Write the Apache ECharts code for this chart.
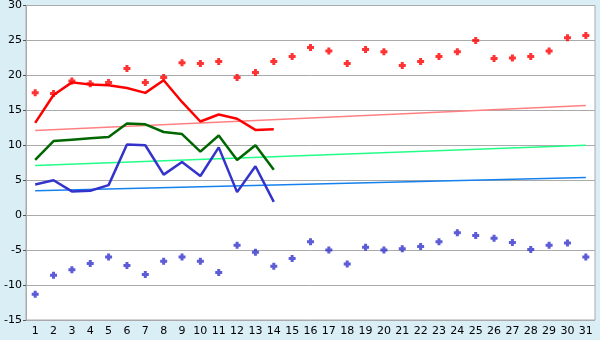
<!DOCTYPE html>
<html><head><meta charset="utf-8">
<script src="https://cdn.jsdelivr.net/npm/echarts@6/dist/echarts.min.js"></script>
<style>html,body{margin:0;padding:0;background:#daeef6;}#c{width:600px;height:340px;}</style>
</head><body><div id="c"></div>
<script>
var days = ['1','2','3','4','5','6','7','8','9','10','11','12','13','14','15','16','17','18','19','20','21','22','23','24','25','26','27','28','29','30','31'];
var yTicks = [-15,-10,-5,0,5,10,15,20,25,30];
var maxPoints = [17.5,17.4,19.2,18.8,19.0,21.0,19.0,19.7,21.8,21.7,22.0,19.7,20.4,22.0,22.7,24.0,23.5,21.7,23.7,23.4,21.4,22.0,22.7,23.4,25.0,22.4,22.5,22.7,23.5,25.4,25.7];
var minPoints = [-11.3,-8.6,-7.8,-6.9,-6.0,-7.2,-8.5,-6.6,-6.0,-6.6,-8.2,-4.3,-5.3,-7.3,-6.2,-3.8,-5.0,-7.0,-4.6,-5.0,-4.8,-4.5,-3.8,-2.5,-2.9,-3.3,-3.9,-4.9,-4.3,-4.0,-6.0];
var maxLine = [13.2,17.2,19.0,18.7,18.6,18.2,17.5,19.3,16.2,13.4,14.4,13.8,12.2,12.3];
var meanLine = [7.9,10.6,10.8,11.0,11.2,13.1,13.0,11.9,11.6,9.1,11.4,7.9,10.0,6.5];
var minLine = [4.4,5.0,3.4,3.5,4.3,10.1,10.0,5.8,7.6,5.6,9.7,3.3,7.0,1.9];
var maxTrend = [[0,12.1],[30,15.7]];
var meanTrend = [[0,7.1],[30,10.0]];
var minTrend = [[0,3.5],[30,5.4]];

var plus = 'path://M2,0H5V2H7V5H5V7H2V5H0V2H2Z';
var chart = echarts.init(document.getElementById('c'), null, {renderer:'canvas'});
var font = {fontFamily:'DejaVu Sans', fontSize:11, color:'#000'};
function line(data, color, w){
  return {type:'line', data:data, symbol:'none', animation:false, lineStyle:{color:color,width:w}, itemStyle:{color:color}, z:3};
}
function pts(data, color){
  return {type:'scatter', data:data, symbol:plus, symbolSize:7, animation:false, itemStyle:{color:color}, z:4};
}
chart.setOption({
  backgroundColor:'#daeef6',
  animation:false,
  grid:{left:26,right:5,top:5,bottom:20,show:true,backgroundColor:'#ffffff',borderColor:'#aaaaaa',borderWidth:1},
  xAxis:{type:'category',data:days,boundaryGap:true,
    axisLine:{lineStyle:{color:'#aaaaaa'}},
    axisTick:{alignWithLabel:true,length:4,lineStyle:{color:'#000'}},
    axisLabel:Object.assign({margin:6,interval:0},font),
    splitLine:{show:false}},
  yAxis:{type:'value',min:yTicks[0],max:yTicks[yTicks.length-1],interval:5,
    axisLine:{show:true,lineStyle:{color:'#aaaaaa'}},
    axisTick:{show:true,length:3,lineStyle:{color:'#555555'}},
    axisLabel:Object.assign({margin:4},font),
    splitLine:{lineStyle:{color:'#aaaaaa',width:1}}},
  series:[
    line(maxTrend,'#ff8080',1.5),
    line(meanTrend,'#22ff88',1.5),
    line(minTrend,'#1580ee',1.5),
    line(maxLine,'#ff0000',2.5),
    line(meanLine,'#006600',2.5),
    line(minLine,'#3333cc',2.5),
    pts(maxPoints,'#ff0000'),
    pts(minPoints,'#3333cc')
  ]
});
</script></body></html>
